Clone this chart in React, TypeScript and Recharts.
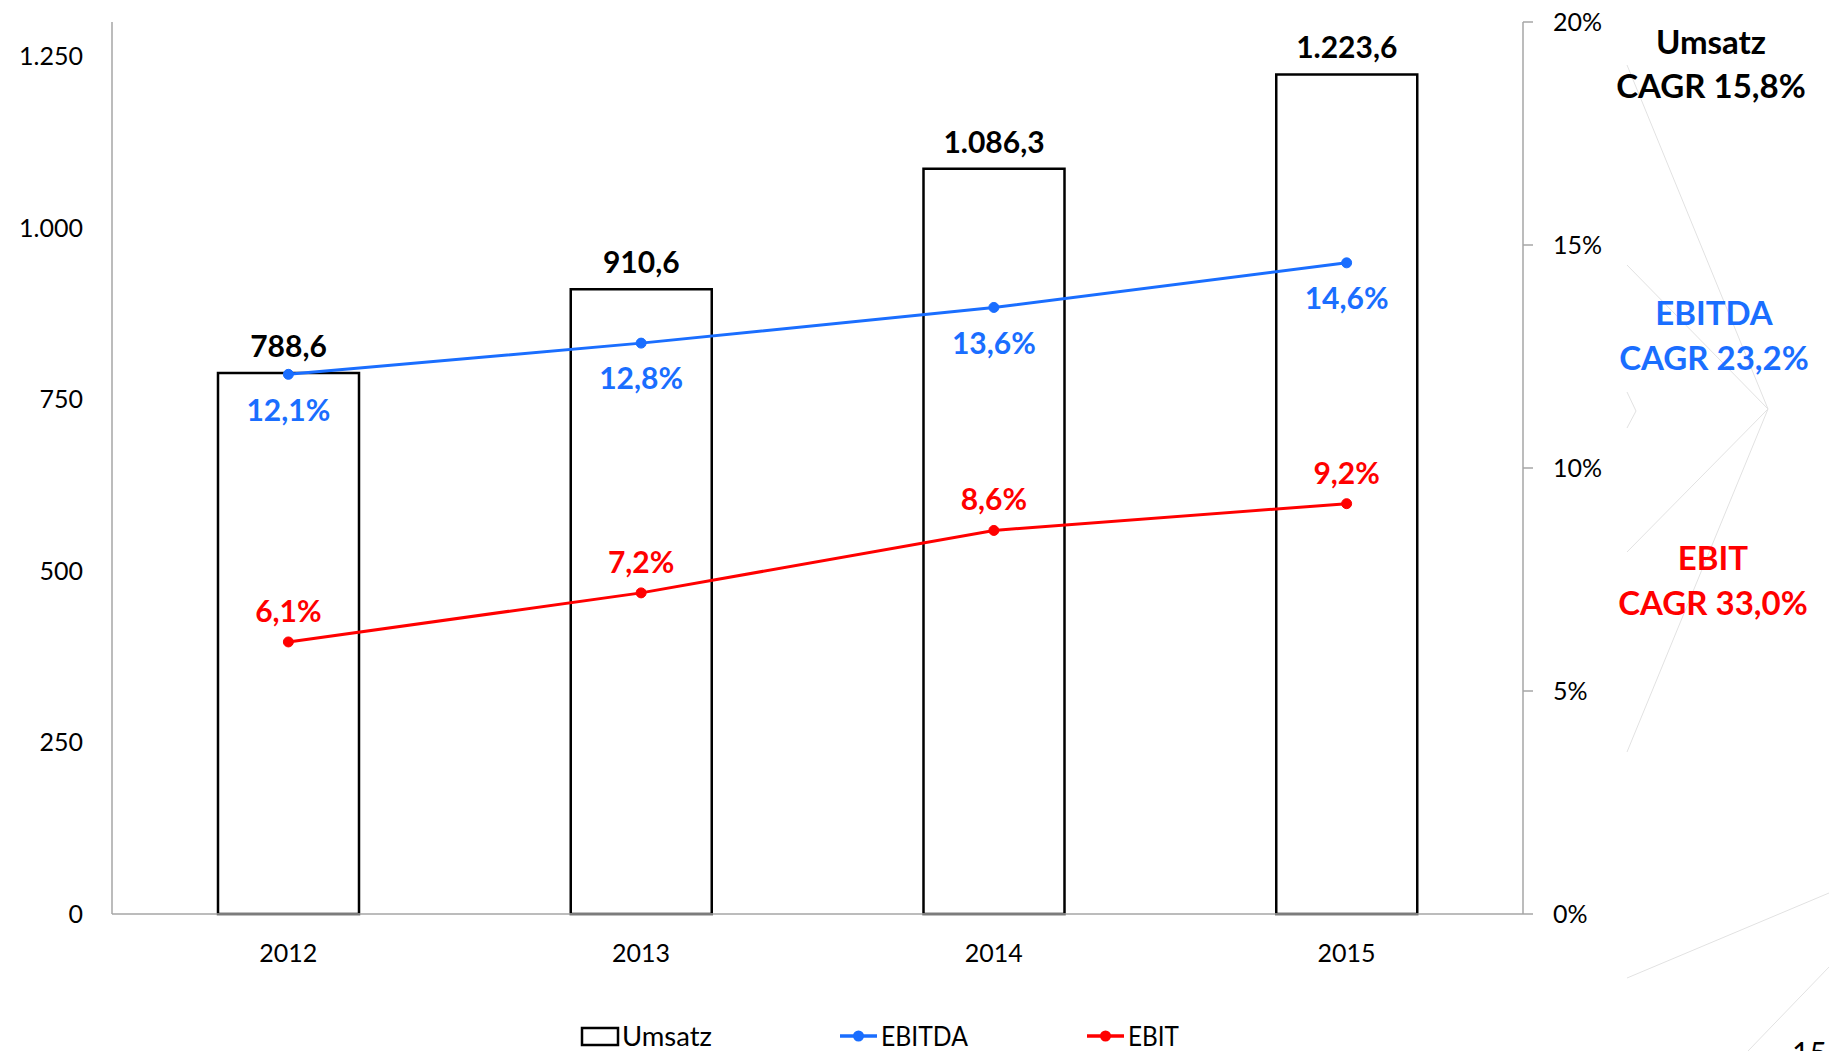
import React from 'react';
import { ComposedChart, Bar, Line, XAxis, YAxis, LabelList } from 'recharts';

const categories = ['2012', '2013', '2014', '2015'];
const umsatz = [788.6, 910.6, 1086.3, 1223.6];
const ebitdaMargin = [12.1, 12.8, 13.6, 14.6];
const ebitMargin = [6.1, 7.2, 8.6, 9.2];
const leftTicks = [0, 250, 500, 750, 1000, 1250];
const rightTicks = [0, 5, 10, 15, 20];
const annotations = [
  { lines: ['Umsatz', 'CAGR 15,8%'], color: '#000000', x: 1711, y: [41, 85] },
  { lines: ['EBITDA', 'CAGR 23,2%'], color: '#1a6eff', x: 1714, y: [312, 357] },
  { lines: ['EBIT', 'CAGR 33,0%'], color: '#ff0000', x: 1713, y: [557, 602] },
];

const BLUE = '#1a6eff';
const RED = '#ff0000';
const AXIS = '#a6a6a6';
const FONT = 'Lato, "Open Sans", sans-serif';

const data = categories.map((c, i) => ({
  year: c,
  umsatz: umsatz[i],
  ebitda: ebitdaMargin[i],
  ebit: ebitMargin[i],
}));

function fmtDe(v: number, dec: number): string {
  const [i, f] = v.toFixed(dec).split('.');
  const int = i.replace(/\B(?=(\d{3})+(?!\d))/g, '.');
  return f ? `${int},${f}` : int;
}

const decoLines: [number, number, number, number][] = [
  [1627, 65, 1768, 409],
  [1627, 265, 1768, 409],
  [1627, 552, 1768, 409],
  [1768, 409, 1627, 752],
  [1627, 392, 1636, 411],
  [1636, 411, 1627, 428],
  [1627, 978, 1829, 893],
  [1748, 1051, 1829, 967],
];

export default function App() {
  return (
    <div style={{ position: 'absolute', left: 0, top: 0, width: 1829, height: 1051, background: '#fff', fontFamily: FONT }}>
      <svg width={1829} height={1051} style={{ position: 'absolute', left: 0, top: 0 }}>
        {decoLines.map((l, i) => (
          <line key={i} x1={l[0]} y1={l[1]} x2={l[2]} y2={l[3]} stroke="#e2e2e2" strokeWidth={1} />
        ))}
      </svg>
      <div style={{ position: 'absolute', left: 0, top: 0 }}>
        <ComposedChart
          width={1829}
          height={1051}
          data={data}
          margin={{ top: 22, right: 226, left: 12, bottom: 77 }}
          barCategoryGap="30%"
        >
          <XAxis
            dataKey="year"
            axisLine={{ stroke: AXIS, strokeWidth: 1.5 }}
            tickLine={false}
            tickSize={0}
            tickMargin={30}
            height={60}
            tick={{ fill: '#000', fontSize: 25, fontFamily: FONT }}
          />
          <YAxis
            yAxisId="left"
            orientation="left"
            width={100}
            domain={[0, 1300]}
            ticks={leftTicks}
            interval={0}
            axisLine={{ stroke: AXIS, strokeWidth: 1.5 }}
            tickLine={false}
            tickSize={0}
            tickMargin={29}
            tickFormatter={(v: number) => fmtDe(v, 0)}
            tick={{ fill: '#000', fontSize: 25, fontFamily: FONT }}
          />
          <YAxis
            yAxisId="right"
            orientation="right"
            width={80}
            domain={[0, 20]}
            ticks={rightTicks}
            interval={0}
            axisLine={{ stroke: AXIS, strokeWidth: 1.5 }}
            tickLine={{ stroke: AXIS, strokeWidth: 1.5 }}
            tickSize={10}
            tickMargin={20}
            tickFormatter={(v: number) => `${v}%`}
            tick={{ fill: '#000', fontSize: 25, fontFamily: FONT }}
          />
          <Bar
            yAxisId="left"
            dataKey="umsatz"
            fill="#ffffff"
            stroke="#000000"
            strokeWidth={2.5}
            barSize={141}
            isAnimationActive={false}
          >
            <LabelList
              dataKey="umsatz"
              position="top"
              offset={16}
              formatter={(v: number) => fmtDe(v, 1)}
              style={{ fill: '#000', fontSize: 30, fontWeight: 700, fontFamily: FONT }}
            />
          </Bar>
          <Line
            yAxisId="right"
            dataKey="ebitda"
            stroke={BLUE}
            strokeWidth={3}
            dot={{ r: 5, fill: BLUE, stroke: BLUE, strokeWidth: 1 }}
            activeDot={false}
            isAnimationActive={false}
          >
            <LabelList
              dataKey="ebitda"
              position="bottom"
              offset={25}
              formatter={(v: number) => `${fmtDe(v, 1)}%`}
              style={{ fill: BLUE, fontSize: 30, fontWeight: 700, fontFamily: FONT }}
            />
          </Line>
          <Line
            yAxisId="right"
            dataKey="ebit"
            stroke={RED}
            strokeWidth={3}
            dot={{ r: 5, fill: RED, stroke: RED, strokeWidth: 1 }}
            activeDot={false}
            isAnimationActive={false}
          >
            <LabelList
              dataKey="ebit"
              position="top"
              offset={20}
              formatter={(v: number) => `${fmtDe(v, 1)}%`}
              style={{ fill: RED, fontSize: 30, fontWeight: 700, fontFamily: FONT }}
            />
          </Line>
        </ComposedChart>
      </div>
      <svg width={1829} height={1051} style={{ position: 'absolute', left: 0, top: 0, pointerEvents: 'none' }}>
        {annotations.map((a, i) => (
          <g key={i}>
            {a.lines.map((t, j) => (
              <text
                key={j}
                x={a.x}
                y={a.y[j]}
                textAnchor="middle"
                dominantBaseline="central"
                fontSize={33}
                fontWeight={700}
                fill={a.color}
                fontFamily={FONT}
              >
                {t}
              </text>
            ))}
          </g>
        ))}
        {/* legend */}
        <rect x={582} y={1028} width={36} height={17} fill="#fff" stroke="#000" strokeWidth={2.5} />
        <text x={622} y={1046} fontSize={27} fontFamily={FONT} textLength={90} lengthAdjust="spacingAndGlyphs">Umsatz</text>
        <line x1={840} y1={1036} x2={877} y2={1036} stroke={BLUE} strokeWidth={3.5} />
        <circle cx={858.5} cy={1036} r={5.5} fill={BLUE} />
        <text x={881} y={1046} fontSize={27} fontFamily={FONT} textLength={87} lengthAdjust="spacingAndGlyphs">EBITDA</text>
        <line x1={1087} y1={1036} x2={1124} y2={1036} stroke={RED} strokeWidth={3.5} />
        <circle cx={1105.5} cy={1036} r={5.5} fill={RED} />
        <text x={1128} y={1046} fontSize={27} fontFamily={FONT} textLength={51} lengthAdjust="spacingAndGlyphs">EBIT</text>
        <text x={1792} y={1064} fontSize={30} fontFamily={FONT} fill="#000">15</text>
      </svg>
    </div>
  );
}
